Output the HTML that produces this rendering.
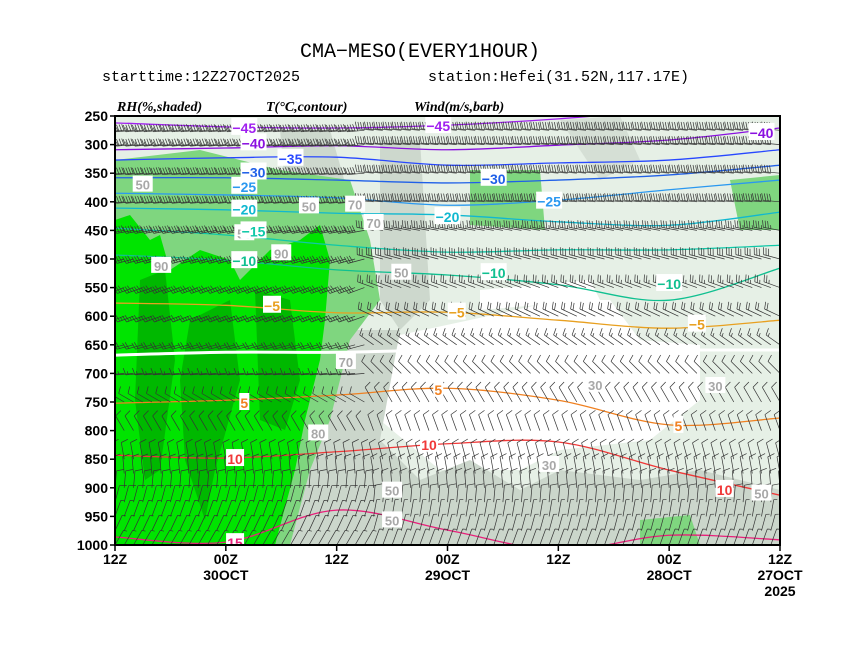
<!DOCTYPE html>
<html><head><meta charset="utf-8"><style>
html,body{margin:0;padding:0;background:#fff;}
svg{display:block;}
.t{font-family:"Liberation Mono","DejaVu Sans Mono",monospace;}
.ax{font-family:"Liberation Sans",sans-serif;font-weight:bold;font-size:14px;fill:#000;}
.hd{font-family:"Liberation Serif",serif;font-weight:bold;font-style:italic;font-size:14px;}
.cl{font-family:"Liberation Sans",sans-serif;font-weight:bold;font-size:14px;}
.rl{font-family:"Liberation Sans",sans-serif;font-weight:bold;font-size:13px;fill:#a8a8a8;}
</style></head><body>
<svg id="chart" width="860" height="664" viewBox="0 0 860 664" xmlns="http://www.w3.org/2000/svg">
<rect width="860" height="664" fill="#fff"/>
<text class="t" x="420" y="57" font-size="20" text-anchor="middle">CMA−MESO(EVERY1HOUR)</text>
<text class="t" x="102" y="81" font-size="15">starttime:12Z27OCT2025</text>
<text class="t" x="428" y="81" font-size="15">station:Hefei(31.52N,117.17E)</text>
<text class="hd" x="117" y="111">RH(%,shaded)</text>
<text class="hd" x="266" y="111">T(°C,contour)</text>
<text class="hd" x="414" y="111">Wind(m/s,barb)</text>
<defs><clipPath id="pc"><rect x="115" y="116" width="665" height="429"/></clipPath></defs>
<g clip-path="url(#pc)">
 <g>
  <rect x="115" y="116" width="665" height="429" fill="#e6f0e6"/>
  <path d="M400,335 L470,320 L560,300 L610,300 L640,340 L700,345 L700,400 L650,440 L560,450 L520,470 L440,470 L380,420 Z" fill="#fff"/>
  <path d="M480,290 L590,280 L600,300 L480,310 Z" fill="#fff"/>
  <path d="M280,130 L330,130 L350,200 L330,240 L290,240 Z" fill="#cdd8cd"/>
  <path d="M380,140 L420,140 L430,300 L400,330 L380,300 Z" fill="#cdd8cd"/>
  <path d="M330,330 L400,330 L380,440 L420,480 L470,460 L520,490 L560,470 L640,480 L700,470 L780,490 L780,545 L290,545 Z" fill="#cbd6cb"/>
  <path d="M560,120 L620,116 L640,160 L600,180 Z" fill="#d5dfd5"/>
  <path d="M115,160 L200,150 L280,170 L350,180 L370,240 L380,300 L350,340 L330,420 L310,470 L290,545 L115,545 Z" fill="#7fd67f"/>
  <path d="M470,170 L540,170 L545,230 L470,225 Z" fill="#7fd67f"/>
  <path d="M730,180 L780,175 L780,230 L740,230 Z" fill="#7fd67f"/>
  <path d="M640,520 L690,515 L700,545 L640,545 Z" fill="#7fd67f"/>
  <path d="M115,220 L130,215 L150,240 L160,235 L170,270 L200,250 L230,260 L240,280 L270,250 L300,240 L320,225 L330,260 L325,320 L320,360 L305,420 L295,470 L275,545 L115,545 Z" fill="#00e400"/>
  <path d="M140,280 L165,270 L175,360 L160,470 L145,480 L135,400 Z" fill="#00b800"/>
  <path d="M190,320 L230,300 L240,380 L215,470 L205,520 L185,460 L180,380 Z" fill="#00b800"/>
  <path d="M255,290 L290,300 L300,380 L285,430 L260,420 Z" fill="#00b800"/>
 </g>
 <g id="contours"></g>
 <g id="barbs"></g>
 <g id="labels"></g>
</g>
<rect x="115" y="116" width="665" height="429" fill="none" stroke="#000" stroke-width="2"/>
<g id="axes"></g>
</svg>
<script>
var pLevels=[250,300,350,400,450,500,550,600,650,700,750,800,850,900,950,1000];
var xTickHours=[0,12,24,36,48,60,72];
var xTickLab1=["12Z","00Z","12Z","00Z","12Z","00Z","12Z"];
var xTickLab2=["","30OCT","","29OCT","","28OCT","27OCT"];
var xTickLab3=["","","","","","","2025"];
var contHours=[0,12,24,36,48,60,72];
var tLevels=[-45,-40,-35,-30,-25,-20,-15,-10,-5,0,5,10,15];
var tColors=["#a020f0","#8a10e0","#2848ff","#2060e8","#2a98f0","#10b8d0","#10c8a8","#10c090","#e8a020","#ffffff","#f08020","#f03838","#e8207a"];
var tPres=[
 [262,269,271,266,255,240,236],
 [309,306,302,309,301,292,271],
 [327,323,322,336,332,327,309],
 [358,358,362,367,362,353,336],
 [385,388,393,406,397,379,362],
 [411,414,420,423,435,441,418],
 [446,458,476,488,484,484,476],
 [493,502,519,528,545,572,516],
 [577,581,594,593,607,621,607],
 [668,663,663,659,659,659,659],
 [752,747,738,726,747,790,778],
 [843,848,837,823,820,869,913],
 [986,995,939,974,1009,983,991]];
var labT=["-45","-40","-35","-30","-25","-20","-15","-10","-10","-5","-5","5","5","5","10","10","15","-40","-30","-20","-10","-25","-45","-5","10"];
var labH=[14,15,19,15,14,14,15,14,41,17,37,14,35,61,13,34,13,70,41,36,60,47,35,63,66];
var labP=[269,296,323,347,372,412,450,502,523,580,592,750,727,790,848,823,995,278,358,425,542,398,266,613,902];
var labC=["#a020f0","#8a10e0","#2848ff","#2060e8","#2a98f0","#10b8d0","#10c8a8","#10c090","#10c090","#e8a020","#e8a020","#f08020","#f08020","#f08020","#f03838","#f03838","#e8207a","#8a10e0","#2060e8","#10b8d0","#10c090","#2a98f0","#a020f0","#e8a020","#f03838"];
var rhLab=["50","50","90","90","70","50","70","50","70","80","30","30","50","50","30","50"];
var rhH=[3,14,5,18,26,21,28,31,25,22,47,65,30,30,52,70];
var rhP=[370,455,512,490,405,408,437,524,680,805,860,722,957,905,720,910];
var windLev=[275,300,350,400,450,500,550,600,650,700,750,800,850,875,900,925,950,975,1000];
var windDirL=[265,265,265,265,260,255,250,250,255,265,300,330,350,355,5,15,20,25,30];
var windSpdL=[45,45,42,40,38,32,28,25,20,15,12,10,8,8,8,8,6,6,5];
var windDirR=[275,275,275,275,280,285,290,295,305,315,330,340,345,350,355,5,10,15,20];
var windSpdR=[40,40,38,38,35,30,25,20,15,12,10,10,8,8,8,8,6,6,5];
var NS="http://www.w3.org/2000/svg";
function X(h){return 115+h*665/72;}
function Y(p){return 116+(p-250)*429/750;}
function mk(tag,attrs,parent){var e=document.createElementNS(NS,tag);for(var k in attrs)e.setAttribute(k,attrs[k]);parent.appendChild(e);return e;}
function smooth(pts){var d="M"+pts[0][0]+","+pts[0][1];for(var i=0;i<pts.length-1;i++){var p0=pts[Math.max(0,i-1)],p1=pts[i],p2=pts[i+1],p3=pts[Math.min(pts.length-1,i+2)];var c1x=p1[0]+(p2[0]-p0[0])/6,c1y=p1[1]+(p2[1]-p0[1])/6,c2x=p2[0]-(p3[0]-p1[0])/6,c2y=p2[1]-(p3[1]-p1[1])/6;d+=" C"+c1x+","+c1y+" "+c2x+","+c2y+" "+p2[0]+","+p2[1];}return d;}
var cg=document.getElementById("contours");
for(var i=0;i<tLevels.length;i++){
 var pts=[];for(var j=0;j<contHours.length;j++)pts.push([X(contHours[j]),Y(tPres[i][j])]);
 var pe=mk("path",{d:smooth(pts),fill:"none",stroke:tColors[i],"stroke-width":tLevels[i]===0?3:1.3},cg);
 
 
}
var bg=document.getElementById("barbs");
function barb(x0,y0,dir,spd){
 var r=dir*Math.PI/180,ux=Math.sin(r),uy=-Math.cos(r),L=17;
 var px=-uy,py=ux;var d="M"+x0.toFixed(1)+","+y0.toFixed(1)+"L"+(x0+ux*L).toFixed(1)+","+(y0+uy*L).toFixed(1);
 var s=Math.round(spd/5)*5,pos=L,bx,by;
 while(s>=10){bx=x0+ux*pos;by=y0+uy*pos;d+="M"+bx.toFixed(1)+","+by.toFixed(1)+"L"+(bx+px*7+ux*2).toFixed(1)+","+(by+py*7+uy*2).toFixed(1);pos-=2.6;s-=10;}
 if(s>=5){bx=x0+ux*pos;by=y0+uy*pos;d+="M"+bx.toFixed(1)+","+by.toFixed(1)+"L"+(bx+px*3.5+ux).toFixed(1)+","+(by+py*3.5+uy).toFixed(1);}
 var e=mk("path",{d:d,fill:"none",stroke:"#333","stroke-width":0.7},bg);
 
 
}
for(var li=0;li<windLev.length;li++){
 for(var h=0;h<=72;h++){
  var left=h<28;
  barb(X(h),Y(windLev[li]),left?windDirL[li]:windDirR[li],left?windSpdL[li]:windSpdR[li]);
 }
}
var lg=document.getElementById("labels");
for(var k=0;k<rhLab.length;k++){
 var x=X(rhH[k]),y=Y(rhP[k]);
 var rb=mk("rect",{x:x-10,y:y-9,width:20,height:16,fill:"#fff"},lg);
 
 
 var rt=mk("text",{x:x,y:y+5,"text-anchor":"middle","class":"rl"},lg);rt.textContent=rhLab[k];
 
 
}
for(var k=0;k<labT.length;k++){
 var x=X(labH[k]),y=Y(labP[k]);var w=labT[k].length*8+2;
 var b=mk("rect",{x:x-w/2,y:y-9,width:w,height:17,fill:"#fff"},lg);
 
 
 var t=mk("text",{x:x,y:y+6,"text-anchor":"middle","class":"cl",fill:labC[k]},lg);t.textContent=labT[k].replace("-","−");
 
 
}
var ag=document.getElementById("axes");
for(var i=0;i<pLevels.length;i++){
 var y=Y(pLevels[i]);
 var tk=mk("line",{x1:110,x2:115,y1:y,y2:y,stroke:"#000","stroke-width":1.5},ag);
 
 
 var tl=mk("text",{x:108,y:y+5,"text-anchor":"end","class":"ax"},ag);tl.textContent=pLevels[i];
 
 
}
for(var i=0;i<xTickHours.length;i++){
 var x=X(xTickHours[i]);
 var tk=mk("line",{x1:x,x2:x,y1:545,y2:551,stroke:"#000","stroke-width":1.5},ag);
 
 
 var labs=[xTickLab1[i],xTickLab2[i],xTickLab3[i]];
 for(var j=0;j<3;j++){if(!labs[j])continue;
  var tl=mk("text",{x:x,y:564+j*16,"text-anchor":"middle","class":"ax"},ag);tl.textContent=labs[j];
  
  
 }
}
</script>
</body></html>
